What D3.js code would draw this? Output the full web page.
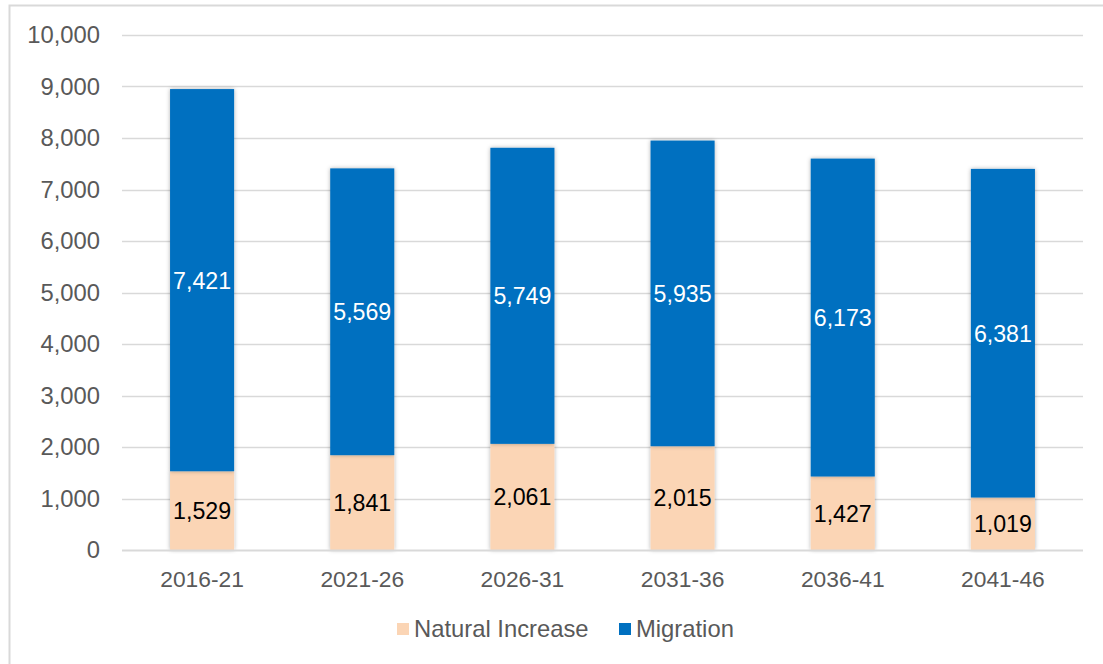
<!DOCTYPE html>
<html>
<head>
<meta charset="utf-8">
<script src="https://cdn.jsdelivr.net/npm/d3@7"></script>
<style>
  html, body { margin: 0; padding: 0; background: #fff; }
  svg { display: block; font-family: "Liberation Sans", Arial, sans-serif; }
</style>
</head>
<body>
<svg id="chart" width="1103" height="664"></svg>
<script>
// Population change by component, five-year periods
const periods = ["2016-21", "2021-26", "2026-31", "2031-36", "2036-41", "2041-46"];
const naturalIncrease = [1529, 1841, 2061, 2015, 1427, 1019];
const migration = [7421, 5569, 5749, 5935, 6173, 6381];
const yTicks = [0, 1000, 2000, 3000, 4000, 5000, 6000, 7000, 8000, 9000, 10000];
const seriesNames = ["Natural Increase", "Migration"];
const seriesColors = ["#FBD5B5", "#0070C0"];
const labelColors = ["#000000", "#ffffff"];

const svg = d3.select("#chart");
const W = 1103, H = 664;
const margin = { left: 122, top: 35 };
const plotRight = 1083, plotBottom = 550;

// outer frame
svg.append("rect")
  .attr("x", 9.5).attr("y", 5.5)
  .attr("width", W + 20).attr("height", H + 20)
  .attr("fill", "#fff").attr("stroke", "#d9d9d9").attr("stroke-width", 2);

const defs = svg.append("defs");
const shadow = defs.append("filter").attr("id", "barShadow")
  .attr("x", "-20%").attr("y", "-5%").attr("width", "140%").attr("height", "110%");
shadow.append("feDropShadow")
  .attr("dx", 0).attr("dy", 0).attr("stdDeviation", 2)
  .attr("flood-color", "#000").attr("flood-opacity", 0.3);

const x = d3.scaleBand().domain(periods)
  .range([margin.left, plotRight]).paddingInner(0.6).paddingOuter(0.3);
const y = d3.scaleLinear().domain([0, 10000]).range([plotBottom, margin.top]);

// horizontal gridlines
svg.append("g").selectAll("line")
  .data(yTicks.filter(t => t > 0)).join("line")
  .attr("x1", margin.left).attr("x2", plotRight)
  .attr("y1", d => Math.round(y(d)) + 0.5).attr("y2", d => Math.round(y(d)) + 0.5)
  .attr("stroke", "#d9d9d9").attr("stroke-width", 1.5);

// y axis labels
const yAxis = d3.axisLeft(y).tickValues(yTicks).tickFormat(d3.format(",")).tickSize(0).tickPadding(0);
const gy = svg.append("g").attr("transform", "translate(100,0)").call(yAxis);
gy.select(".domain").remove();
gy.selectAll("text").attr("font-size", 23.8).attr("fill", "#595959")
  .attr("font-family", "Liberation Sans, Arial, sans-serif");

// stacked data
const rows = periods.map((p, i) => ({ period: p, natural: naturalIncrease[i], migration: migration[i] }));
const stack = d3.stack().keys(["natural", "migration"]);
const layers = stack(rows);

const gBars = svg.append("g");
layers.forEach((layer, li) => {
  gBars.append("g").selectAll("rect")
    .data(layer).join("rect")
    .attr("x", d => x(d.data.period))
    .attr("width", x.bandwidth())
    .attr("y", d => y(d[1]))
    .attr("height", d => y(d[0]) - y(d[1]))
    .attr("fill", seriesColors[li])
    .attr("filter", "url(#barShadow)");
});

// value labels centred in each segment
layers.forEach((layer, li) => {
  svg.append("g").selectAll("text")
    .data(layer).join("text")
    .attr("x", d => x(d.data.period) + x.bandwidth() / 2)
    .attr("y", d => y((d[0] + d[1]) / 2))
    .attr("dy", "0.36em")
    .attr("text-anchor", "middle")
    .attr("font-size", 23.2)
    .attr("fill", labelColors[li])
    .text(d => d3.format(",")(d[1] - d[0]));
});

// x axis baseline
svg.append("line")
  .attr("x1", margin.left).attr("x2", plotRight)
  .attr("y1", plotBottom + 0.5).attr("y2", plotBottom + 0.5)
  .attr("stroke", "#d9d9d9").attr("stroke-width", 2);

// x axis labels
const xAxis = d3.axisBottom(x).tickSize(0).tickPadding(0);
const gx = svg.append("g").attr("transform", `translate(0,${plotBottom})`).call(xAxis);
gx.select(".domain").remove();
gx.selectAll("text").attr("font-size", 22.8).attr("fill", "#595959")
  .attr("font-family", "Liberation Sans, Arial, sans-serif")
  .attr("dy", null).attr("y", 37);

// legend
const legendItems = [
  { name: seriesNames[0], color: seriesColors[0], sx: 397, tx: 414 },
  { name: seriesNames[1], color: seriesColors[1], sx: 619, tx: 636 }
];
const gl = svg.append("g");
legendItems.forEach(it => {
  gl.append("rect").attr("x", it.sx).attr("y", 623).attr("width", 12).attr("height", 12)
    .attr("fill", it.color);
  gl.append("text").attr("x", it.tx).attr("y", 637)
    .attr("font-size", 23.8).attr("fill", "#595959").text(it.name);
});
</script>
</body>
</html>
